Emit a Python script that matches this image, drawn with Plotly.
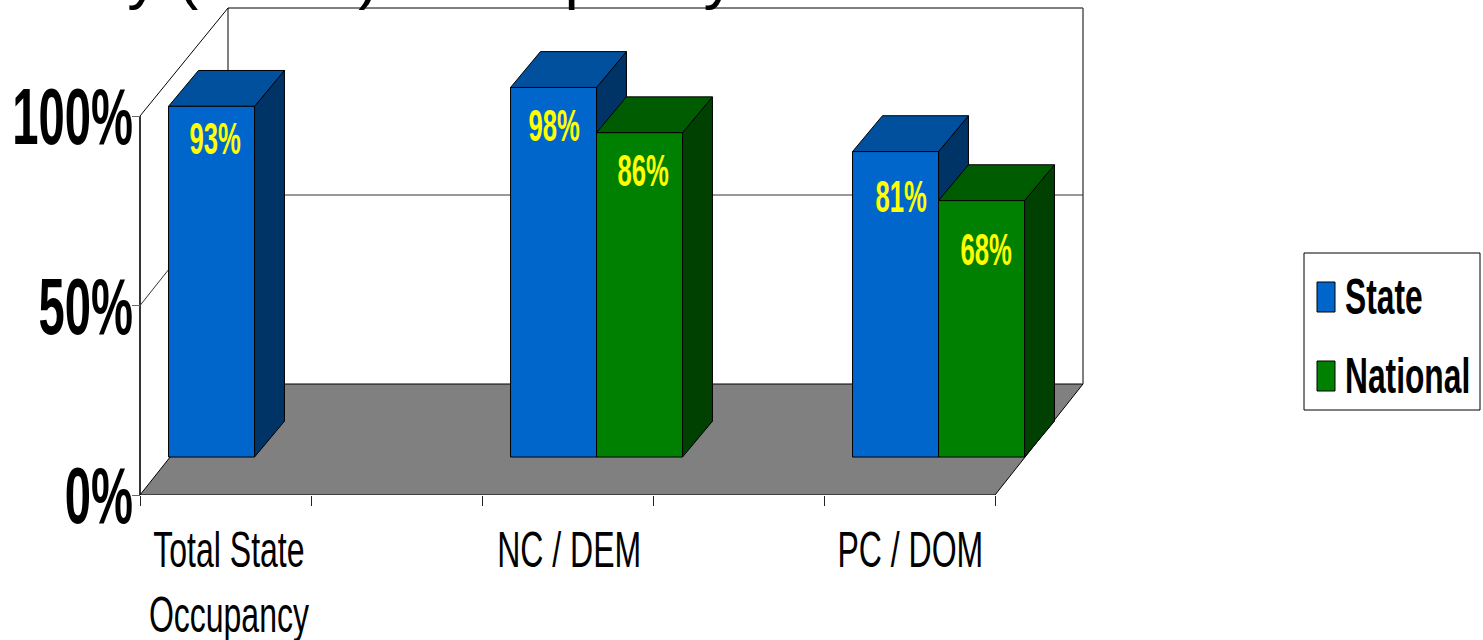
import json
import plotly.graph_objects as go

# ---------- data ----------
categories = ["Total State<br>Occupancy", "", "NC / DEM", "", "PC / DOM"]
state_values = [93, None, 98, None, 81]
national_values = [None, None, 86, None, 68]
y_ticks = [0, 50, 100]
series_names = ["State", "National"]
title_text = "Occupancy (CY04) &nbsp;Occupancy"

# ---------- style / projection ----------
W, H = 1483, 640
PX_CAT, PX_PCT = 171.0, 3.79
X0_PX, Y0_PX = 140.0, 495.0
FLOOR_DX, FLOOR_DY = 88 / PX_CAT, 111 / PX_PCT
WALL_TOP_BACK = (Y0_PX - 8) / PX_PCT
GRID_BACK = (Y0_PX - 195) / PX_PCT
BAR_NEAR_X, BAR_FAR_X = 0.33, 0.67
BAR_NEAR_Y = 0.342
BAR_PERSPECTIVE = 0.995
BAR_W = 86 / PX_CAT
FONT = "Liberation Sans, Arial, sans-serif"
LINE = "#000000"
colors = {
    "State": ("#0066CC", "#00509E", "#003366"),
    "National": ("#008000", "#005C00", "#004000"),
}
label_drop = {"State": [32, None, 38, None, 45], "National": [None, None, 38, None, 49]}
label_nudge = {"State": [3, None, 0, None, 5], "National": [None, None, 3, None, 4]}
SIZE_X, SIZE_Y, SIZE_LABEL, SIZE_LEGEND, SIZE_TITLE = 50, 80, 45, 50, 64
SQUEEZE_X, SQUEEZE_Y, SQUEEZE_LABEL, SQUEEZE_LEGEND = 0.64, 0.59, 0.57, 0.635
X_LABEL_NUDGE = [0.52, 0.51, 0.505]

X_RANGE = [-X0_PX / PX_CAT, (W - X0_PX) / PX_CAT]
Y_DOMAIN_BOTTOM = (H - Y0_PX) / H
Y_RANGE = [0, Y0_PX / PX_PCT]

fig = go.Figure()


def poly(xs, ys, fill=None, width=1, color=LINE):
    fig.add_trace(go.Scatter(
        x=xs, y=ys, mode="lines", line=dict(color=color, width=width),
        fill="toself" if fill else None, fillcolor=fill,
        hoverinfo="skip", showlegend=False, cliponaxis=False))


# floor
poly([0, 5, 5 + FLOOR_DX, FLOOR_DX, 0], [0, 0, FLOOR_DY, FLOOR_DY, 0], fill="#808080")
# walls
poly([0, 0], [0, 100], width=1.6)
poly([0, FLOOR_DX, FLOOR_DX], [100, WALL_TOP_BACK, FLOOR_DY])
poly([FLOOR_DX, 5 + FLOOR_DX], [WALL_TOP_BACK, WALL_TOP_BACK])
poly([5 + FLOOR_DX, 5 + FLOOR_DX], [WALL_TOP_BACK, FLOOR_DY], color="#555555", width=1.5)
# 50 % gridline over left and back wall
poly([0, FLOOR_DX, 5 + FLOOR_DX], [50, GRID_BACK, GRID_BACK], color="#333333")


def bar(cat, side, value, cols):
    left = cat + 0.5 + FLOOR_DX * BAR_NEAR_X + (side - 1) * BAR_W
    right = left + BAR_W
    base = FLOOR_DY * BAR_NEAR_Y
    top = base + value * BAR_PERSPECTIVE
    dx = FLOOR_DX * (BAR_FAR_X - BAR_NEAR_X)
    dy = FLOOR_DY * (BAR_FAR_X - BAR_NEAR_X) * 0.95
    poly([right, right + dx, right + dx, right, right], [base, base + dy, top + dy, top, base], fill=cols[2])
    poly([left, left + dx, right + dx, right, left], [top, top + dy, top + dy, top, top], fill=cols[1])
    poly([left, right, right, left, left], [base, base, top, top, base], fill=cols[0])
    return (left + right) / 2, top


annotations = []
for side, (name, vals) in enumerate(zip(series_names, [state_values, national_values])):
    for i, v in enumerate(vals):
        if v is None:
            continue
        cx, top = bar(i, side, v, colors[name])
        annotations.append(dict(
            x=cx, y=top, xref="x", yref="y", text=f"{v}%", showarrow=False,
            yanchor="middle", yshift=-label_drop[name][i], xshift=label_nudge[name][i],
            font=dict(family=FONT, size=SIZE_LABEL, color="#FFFF00", weight="bold")))

# title: only its descenders reach into the page
annotations.append(dict(
    x=-163 / W, y=1.0, xref="paper", yref="paper", text=title_text, showarrow=False,
    xanchor="left", yanchor="bottom", align="left", yshift=-13,
    font=dict(family=FONT, size=SIZE_TITLE, color="#000000")))

# legend box
LEG = dict(x0=1304, x1=1480, y0=253, y1=410)
shapes = [dict(type="rect", xref="paper", yref="paper",
               x0=LEG["x0"] / W, x1=LEG["x1"] / W, y0=1 - LEG["y1"] / H, y1=1 - LEG["y0"] / H,
               line=dict(color="#000000", width=1), fillcolor="#FFFFFF")]
for name, (sy0, sy1) in zip(series_names, [(282, 312), (361, 391)]):
    shapes.append(dict(type="rect", xref="paper", yref="paper",
                       x0=1317 / W, x1=1335 / W, y0=1 - sy1 / H, y1=1 - sy0 / H,
                       line=dict(color="#000000", width=1), fillcolor=colors[name][0]))
    annotations.append(dict(
        x=1343 / W, y=1 - (sy0 + sy1) / 2 / H, xref="paper", yref="paper", text=name,
        showarrow=False, xanchor="left", yanchor="middle", align="left",
        font=dict(family=FONT, size=SIZE_LEGEND, color="#000000", weight="bold")))

fig.update_layout(
    width=W, height=H, margin=dict(l=0, r=0, t=0, b=0, autoexpand=False),
    paper_bgcolor="#FFFFFF", plot_bgcolor="rgba(0,0,0,0)", showlegend=False,
    shapes=shapes, annotations=annotations,
    xaxis=dict(
        domain=[0, 1], range=X_RANGE, showgrid=False, zeroline=False, showline=False,
        tickmode="array",
        tickvals=[i + n for i, n in zip([i for i, c in enumerate(categories) if c], X_LABEL_NUDGE)],
        ticktext=[c for c in categories if c], ticks="", ticklen=0, ticklabelstandoff=21,
        minor=dict(tickmode="array", tickvals=list(range(len(categories) + 1)),
                   ticks="outside", ticklen=10, tickcolor="#222222", tickwidth=1, showgrid=False),
        tickfont=dict(family=FONT, size=SIZE_X, color="#000000"), automargin=False),
    yaxis=dict(
        domain=[Y_DOMAIN_BOTTOM, 1], range=Y_RANGE, showgrid=False, zeroline=False, showline=False,
        anchor="free", position=X0_PX / W,
        tickmode="array", tickvals=y_ticks, ticktext=[f"{t}%" for t in y_ticks],
        ticks="outside", ticklen=8, tickcolor="#666666", tickwidth=1, ticklabelstandoff=-17,
        tickfont=dict(family=FONT, size=SIZE_Y, color="#000000", weight="bold"), automargin=False),
)

# The reference uses a very condensed face; squeeze the real text horizontally.
squeeze = json.dumps({"x": SQUEEZE_X, "y": SQUEEZE_Y,
                      "sizes": {str(SIZE_LABEL): SQUEEZE_LABEL, str(SIZE_LEGEND): SQUEEZE_LEGEND}})
post = """
document.documentElement.style.overflow='hidden';
document.body.style.margin='0';
var S=%s;
function sq(t,f){
  var x=t.getAttribute('x')||'0', tr=t.getAttribute('transform')||'';
  t.setAttribute('transform',tr+' translate('+x+',0) scale('+f+',1) translate('+(-parseFloat(x))+',0)');
}
document.querySelectorAll('.xtick text').forEach(function(t){sq(t,S.x);});
document.querySelectorAll('.ytick text').forEach(function(t){sq(t,S.y);});
document.querySelectorAll('.annotation-text').forEach(function(t){
  var f=S.sizes[String(Math.round(parseFloat(t.style.fontSize)))];
  if(f){sq(t,f);}
});
""" % squeeze

fig.write_html("out.html", post_script=post, config={"displayModeBar": False})
